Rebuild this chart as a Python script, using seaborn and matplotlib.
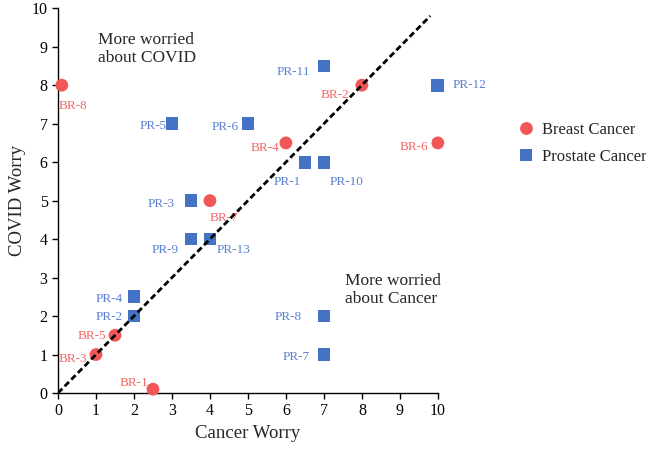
import matplotlib
matplotlib.use("Agg")
import matplotlib.pyplot as plt
import pandas as pd
import seaborn as sns

# breast cancer patients
br_labels = ["BR-1", "BR-2", "BR-3", "BR-4", "BR-5", "BR-6", "BR-7", "BR-8"]
br_cancer = [2.5, 8, 1, 6, 1.5, 10, 4, 0.1]
br_covid = [0.1, 8, 1, 6.5, 1.5, 6.5, 5, 8]

# prostate cancer patients
pr_labels = ["PR-1", "PR-2", "PR-3", "PR-4", "PR-5", "PR-6", "PR-7",
             "PR-8", "PR-9", "PR-10", "PR-11", "PR-12", "PR-13"]
pr_cancer = [6.5, 2, 3.5, 2, 3, 5, 7, 7, 3.5, 7, 7, 10, 4]
pr_covid = [6, 2, 5, 2.5, 7, 7, 1, 2, 4, 6, 8.5, 8, 4]

RED = "#F25757"
RED_TXT = "#F26868"
BLUE = "#4472C4"
BLUE_TXT = "#5B80D2"

# label offsets in pixels (dx, dy, ha)
OFFSETS = {
    "BR-1": (-5, 6, "right"), "BR-2": (-13, -10, "right"), "BR-3": (-9, -4, "right"),
    "BR-4": (-7, -5, "right"), "BR-5": (-9, -1, "right"), "BR-6": (-10, -4, "right"),
    "BR-7": (0, -17, "left"), "BR-8": (-3, -21, "left"),
    "PR-1": (-4, -20, "right"), "PR-2": (-11, -1, "right"), "PR-3": (-16, -3, "right"),
    "PR-4": (-11, -2, "right"), "PR-5": (-5, -2, "right"), "PR-6": (-9, -3, "right"),
    "PR-7": (-14, -2, "right"), "PR-8": (-22, -1, "right"), "PR-9": (-12, -11, "right"),
    "PR-10": (6, -20, "left"), "PR-11": (-14, -6, "right"), "PR-12": (15, 0, "left"),
    "PR-13": (7, -11, "left"),
}

df = pd.DataFrame({
    "label": br_labels + pr_labels,
    "cancer": br_cancer + pr_cancer,
    "covid": br_covid + pr_covid,
    "group": ["Breast Cancer"] * len(br_labels) + ["Prostate Cancer"] * len(pr_labels),
})

sns.set_style("ticks")
plt.rcParams["font.family"] = ["Liberation Serif", "DejaVu Serif"]

fig = plt.figure(figsize=(6.46, 4.49), dpi=100)
ax = fig.add_axes([0.0898, 0.1247, 0.588, 0.857])

sns.scatterplot(
    data=df, x="cancer", y="covid", hue="group", style="group",
    palette={"Breast Cancer": RED, "Prostate Cancer": BLUE},
    markers={"Breast Cancer": "o", "Prostate Cancer": "s"},
    s=85, linewidth=0, ax=ax, zorder=3, clip_on=False,
)

ax.plot([0, 9.8], [0, 9.8], color="black", linestyle=(0, (2.2, 1.2)), lw=2, zorder=4)

for _, row in df.iterrows():
    dx, dy, ha = OFFSETS[row["label"]]
    col = RED_TXT if row["group"] == "Breast Cancer" else BLUE_TXT
    ax.annotate(row["label"], (row["cancer"], row["covid"]), xytext=(dx, dy),
                textcoords="offset pixels", ha=ha, va="center", fontsize=9.5,
                color=col, zorder=2)

ax.text(1.05, 9.38, "More worried\nabout COVID", ha="left", va="top",
        fontsize=12.5, linespacing=1.2)
ax.text(7.55, 3.12, "More worried\nabout Cancer", ha="left", va="top",
        fontsize=12.5, linespacing=1.2)

ax.set_xlim(0, 10)
ax.set_ylim(0, 10)
ax.set_xticks(range(0, 11))
ax.set_yticks(range(0, 11))
ax.tick_params(direction="out", length=4, width=1, labelsize=11.5, colors="black")
ax.set_xlabel("Cancer Worry", fontsize=13.5)
ax.set_ylabel("COVID Worry", fontsize=13.5)
for sp in ["left", "bottom"]:
    ax.spines[sp].set_linewidth(1)
    ax.spines[sp].set_color("black")
sns.despine(ax=ax)

ax.legend(loc="center left", bbox_to_anchor=(1.17, 0.648), frameon=False,
          fontsize=12, handlelength=1.0, handletextpad=0.5, labelspacing=0.65,
          title=None)

fig.savefig("out.png", dpi=100)
